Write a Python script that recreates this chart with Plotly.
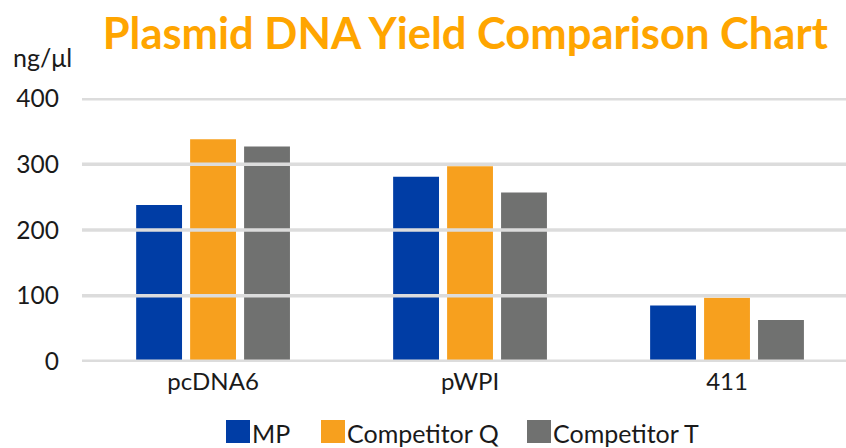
import plotly.graph_objects as go

categories = ["pcDNA6", "pWPI", "411"]
series_names = ["MP", "Competitor Q", "Competitor T"]
mp_values = [238, 281, 85]
q_values = [338, 297, 97]
t_values = [327, 257, 63]
series_colors = ["#003DA5", "#F7A01E", "#707170"]
y_ticks = [0, 100, 200, 300, 400]

W, H = 846, 448
L, T, B = 82, 98, 86
plot_h = H - T - B

fig = go.Figure()
for name, vals, col in zip(series_names, [mp_values, q_values, t_values], series_colors):
    fig.add_trace(go.Bar(x=categories, y=vals, name=name, marker_color=col,
                         marker_line_width=0, showlegend=False))

# horizontal rules drawn over the bars
for v in y_ticks:
    fig.add_shape(type="line", xref="paper", yref="y", x0=0, x1=1, y0=v, y1=v,
                  line=dict(color="#DCDCDC", width=3.5), layer="above")

fig.update_layout(
    width=W, height=H,
    margin=dict(l=L, r=0, t=T, b=B),
    plot_bgcolor="white", paper_bgcolor="white",
    bargap=0.37, bargroupgap=0.15,
    font=dict(family="Lato", color="#1a1a1a"),
    title=dict(text="<b>Plasmid DNA Yield Comparison Chart</b>",
               font=dict(family="Lato", size=43.5, color="#FFA500"),
               x=0.55, xanchor="center", y=0.925, yanchor="middle"),
    xaxis=dict(range=[-0.51, 2.463], showgrid=False, zeroline=False,
               tickfont=dict(family="Lato", size=24, color="#1a1a1a"),
               ticks="", ticklabelstandoff=3),
    yaxis=dict(range=[-1, 401], tickvals=y_ticks, showgrid=False, zeroline=False,
               tickfont=dict(family="Lato", size=24.5, color="#1a1a1a"),
               ticks="", ticklabelstandoff=22),
)

# unit label above the value axis
fig.add_annotation(text="ng/μl", xref="paper", yref="paper",
                   x=(11 - L) / (W - L), xanchor="left",
                   y=1 + (T - 57) / plot_h, yanchor="middle",
                   showarrow=False, font=dict(family="Lato", size=25, color="#1a1a1a"))

# legend: coloured squares with names along the bottom
legend_x = [226, 321, 527]
for name, col, lx in zip(series_names, series_colors, legend_x):
    px0 = (lx - L) / (W - L)
    px1 = (lx + 24 - L) / (W - L)
    py0 = (H - B - 443) / plot_h
    py1 = (H - B - 420) / plot_h
    fig.add_shape(type="rect", xref="paper", yref="paper",
                  x0=px0, x1=px1, y0=py0, y1=py1, line_width=0, fillcolor=col)
    fig.add_annotation(text=name, xref="paper", yref="paper",
                       x=px1, xanchor="left", xshift=0,
                       y=(py0 + py1) / 2, yanchor="middle", yshift=-1, showarrow=False,
                       font=dict(family="Lato", size=25, color="#1a1a1a"))

fig.write_html("out.html")
